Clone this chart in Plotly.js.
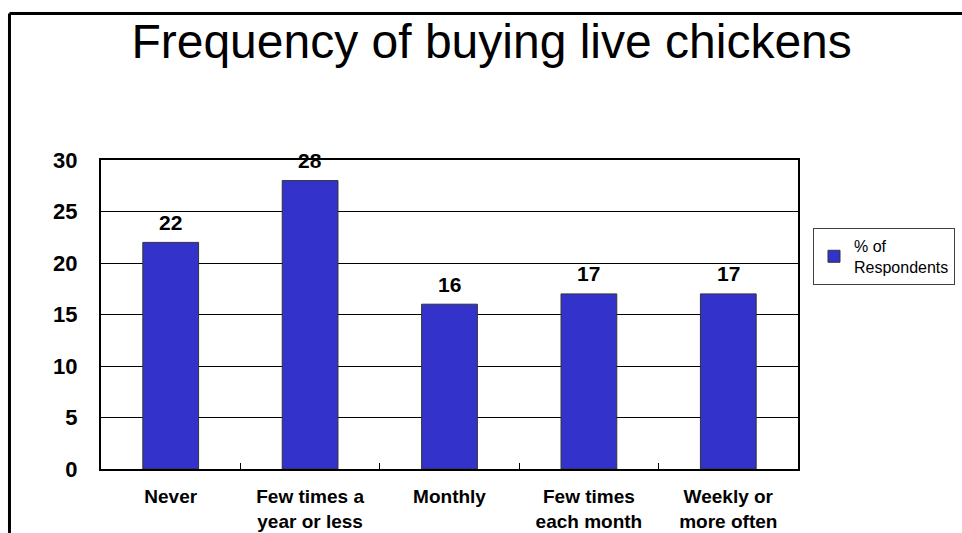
<!DOCTYPE html>
<html>
<head>
<meta charset="utf-8">
<script src="https://cdn.plot.ly/plotly-3.0.1.min.js"></script>
<style>html,body{margin:0;padding:0;background:#fff;}#chart{width:962px;height:533px;}</style>
</head>
<body>
<div id="chart"></div>
<script>
const categories = ["Never", "Few times a<br>year or less", "Monthly", "Few times<br>each month", "Weekly or<br>more often"];
const values = [22, 28, 16, 17, 17];
const seriesName = "% of<br>Respondents";
const chartTitle = "Frequency of buying live chickens";
const yTicks = [0, 5, 10, 15, 20, 25, 30];

const FONT = "Arial, 'Liberation Sans', sans-serif";

const trace = {
  type: "bar",
  x: categories,
  y: values,
  name: seriesName,
  marker: { color: "#3333CC", line: { color: "#333333", width: 1 } },
  hoverinfo: "none",
  showlegend: true
};

const annotations = categories.map((c, i) => ({
  x: c, y: values[i], xref: "x", yref: "y",
  text: String(values[i]), showarrow: false,
  yanchor: "middle", yshift: 20,
  font: { family: FONT, size: 21, color: "#000", weight: "bold" }
}));

const shapes = [
  { type: "line", xref: "paper", yref: "paper", x0: -0.1313, x1: -0.1313, y0: -0.3, y1: 1.4741, line: { color: "#000", width: 3 } },
  { type: "line", xref: "paper", yref: "paper", x0: -0.1313, x1: 1.3, y0: 1.4741, y1: 1.4741, line: { color: "#000", width: 3 } }
];

const layout = {
  width: 962, height: 533,
  margin: { l: 101, r: 164, t: 160, b: 64, pad: 0, autoexpand: false },
  paper_bgcolor: "#fff", plot_bgcolor: "#fff",
  font: { family: FONT, color: "#000" },
  title: {
    text: chartTitle,
    font: { family: FONT, size: 48, color: "#000" },
    xref: "container", x: 0.511, xanchor: "center",
    yref: "container", y: 0.922, yanchor: "middle"
  },
  bargap: 0.6,
  xaxis: {
    type: "category", automargin: false,
    showline: true, linecolor: "#000", linewidth: 2, mirror: true,
    ticks: "inside", tickson: "boundaries", ticklen: 6, tickcolor: "#000", tickwidth: 1,
    tickfont: { family: FONT, size: 19, color: "#000", weight: "bold" },
    ticklabelstandoff: 9,
    showgrid: false, zeroline: false, fixedrange: true
  },
  yaxis: {
    range: [0, 30], tickvals: yTicks, ticktext: yTicks.map(String), automargin: false,
    showline: true, linecolor: "#000", linewidth: 2, mirror: true,
    ticks: "", showgrid: true, gridcolor: "#000", gridwidth: 1,
    zeroline: false,
    tickfont: { family: FONT, size: 22, color: "#000", weight: "bold" },
    ticklabelstandoff: 17, fixedrange: true
  },
  showlegend: true,
  legend: {
    x: 1.0215, xanchor: "left", y: 0.78, yanchor: "top",
    bordercolor: "#404040", borderwidth: 1, bgcolor: "#fff",
    font: { family: FONT, size: 16, color: "#000" },
    itemwidth: 30
  },
  annotations: annotations,
  shapes: shapes
};

Plotly.newPlot("chart", [trace], layout, { displayModeBar: false, staticPlot: true });
</script>
</body>
</html>
